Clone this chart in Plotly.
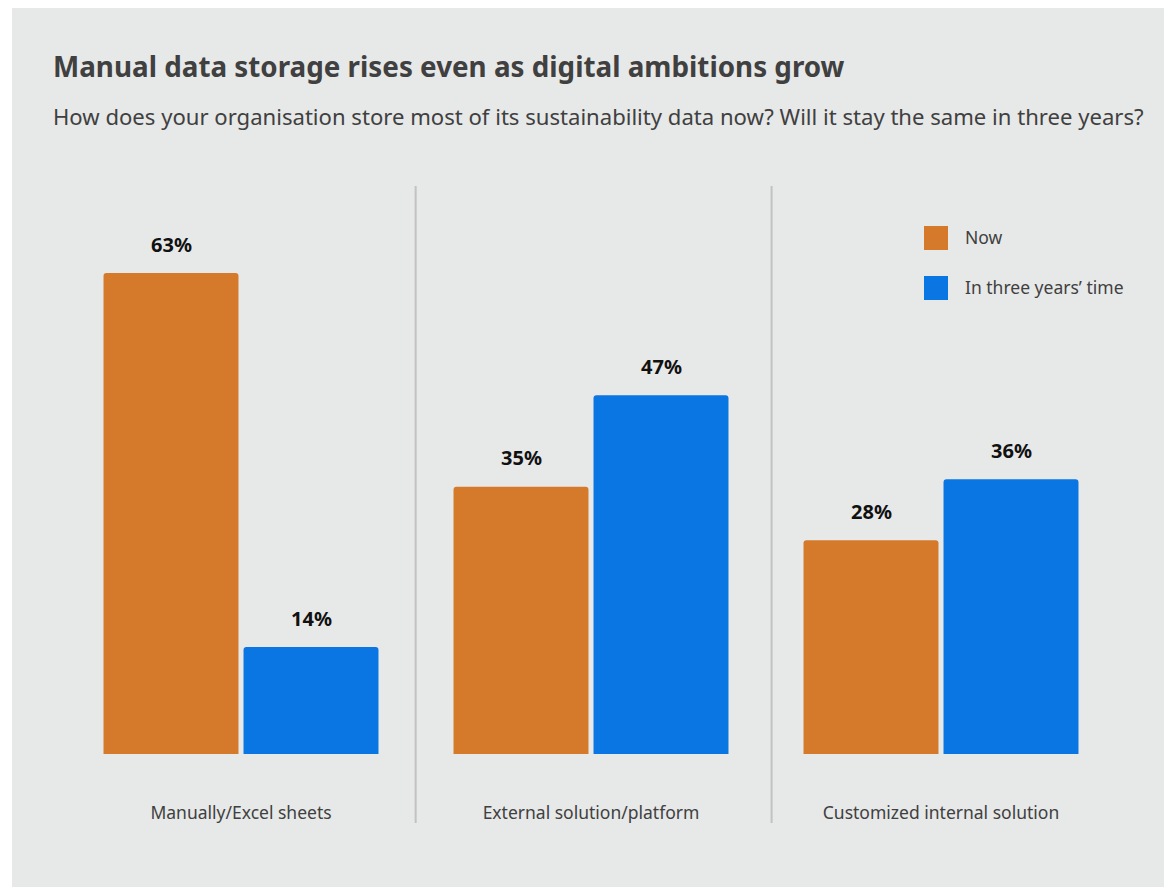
import plotly.graph_objects as go

# Survey data
categories = ["Manually/Excel sheets", "External solution/platform", "Customized internal solution"]
series_names = ["Now", "In three years’ time"]
now_values = [63, 35, 28]
future_values = [14, 47, 36]

colors = ["#d5792b", "#0a76e4"]
text_color = "#404040"
panel_color = "#e7e8e8"
font_family = "Noto Sans, Open Sans, sans-serif"

W, H = 1164, 887
ML, MR, MT, MB = 66, 48, 186, 133
PW, PH = W - ML - MR, H - MT - MB


def px_x(px):
    return (px - ML) / PW


def px_y(py):
    return (H - MB - py) / PH


fig = go.Figure()
for name, vals, col in zip(series_names, [now_values, future_values], colors):
    fig.add_trace(go.Bar(
        x=list(range(len(categories))), y=vals, name=name,
        marker=dict(color=col, line=dict(width=0)),
        showlegend=False, hoverinfo="skip",
    ))

annotations = []
# value labels above each bar
for offset, vals in zip([-70, 70], [now_values, future_values]):
    for i, v in enumerate(vals):
        annotations.append(dict(
            x=i, y=v, xref="x", yref="y", text=f"<b>{v}%</b>",
            showarrow=False, xshift=offset, yshift=29,
            font=dict(size=20, color="#111111", family=font_family),
            xanchor="center", yanchor="middle",
        ))

# title and subtitle
annotations.append(dict(
    x=px_x(51), y=px_y(66), xref="paper", yref="paper",
    text="<b>Manual data storage rises even as digital ambitions grow</b>",
    showarrow=False, xanchor="left", yanchor="middle",
    font=dict(size=27.8, color=text_color, family=font_family),
))
annotations.append(dict(
    x=px_x(51), y=px_y(116), xref="paper", yref="paper",
    text="How does your organisation store most of its sustainability data now? Will it stay the same in three years?",
    showarrow=False, xanchor="left", yanchor="middle",
    font=dict(size=22.1, color=text_color, family=font_family),
))

shapes = [dict(
    type="rect", xref="paper", yref="paper", layer="below",
    x0=px_x(12), x1=px_x(1170), y0=px_y(895), y1=px_y(8),
    fillcolor=panel_color, line=dict(width=0),
)]

# vertical dividers between categories
for b in [0.499, 1.516]:
    shapes.append(dict(
        type="line", xref="x", yref="paper", x0=b, x1=b,
        y0=px_y(823), y1=px_y(186), layer="below",
        line=dict(color="#c2c2c2", width=2),
    ))

# legend
for k, (name, col) in enumerate(zip(series_names, colors)):
    top = 226 + 50 * k
    shapes.append(dict(
        type="rect", xref="paper", yref="paper",
        x0=px_x(924), x1=px_x(948), y0=px_y(top + 24), y1=px_y(top),
        fillcolor=col, line=dict(width=0),
    ))
    annotations.append(dict(
        x=px_x(963), y=px_y(top + 11), xref="paper", yref="paper",
        text=name, showarrow=False, xanchor="left", yanchor="middle",
        font=dict(size=17.5, color=text_color, family=font_family),
    ))

fig.update_layout(
    width=W, height=H,
    margin=dict(l=ML, r=MR, t=MT, b=MB),
    paper_bgcolor="white", plot_bgcolor="rgba(0,0,0,0)",
    barmode="group", bargap=0.2, bargroupgap=0.036,
    barcornerradius=3,
    annotations=annotations, shapes=shapes,
    font=dict(family=font_family, color=text_color),
)
fig.update_xaxes(
    range=[-0.5, 2.5], tickmode="array",
    tickvals=list(range(len(categories))), ticktext=categories,
    showgrid=False, zeroline=False, showline=False, ticks="",
    ticklabelstandoff=46,
    tickfont=dict(size=17.5, color=text_color, family=font_family),
)
fig.update_yaxes(
    range=[0, 568 / 7.635], showgrid=False, zeroline=False,
    showticklabels=False, showline=False,
)

fig.write_html("out.html")
